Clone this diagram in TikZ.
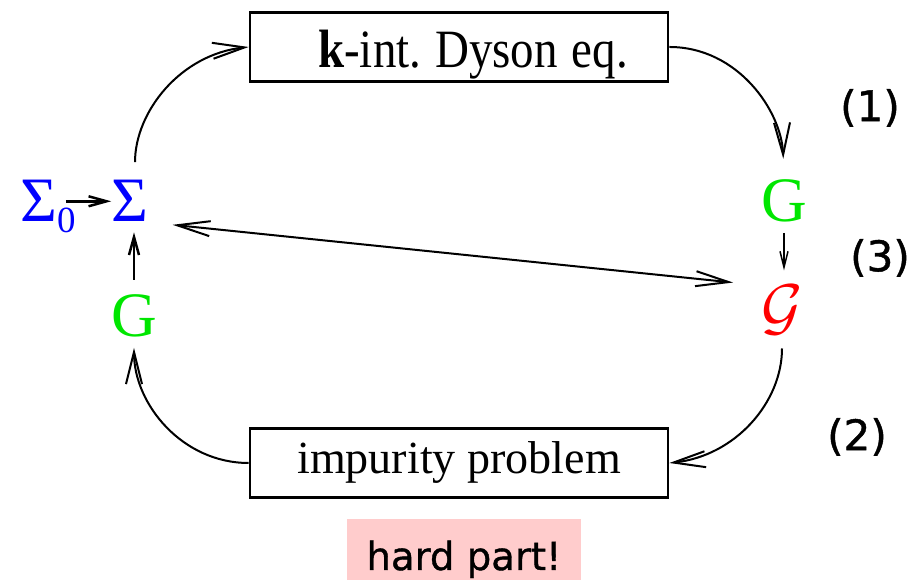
\documentclass[tikz,border=0pt]{standalone}
\usepackage{fontspec}
\setmainfont{Liberation Serif}
\newfontfamily\labelfont[FakeBold=1]{DejaVu Sans}
\usepackage{tikz}
\usetikzlibrary{arrows.meta, positioning}

\definecolor{sigblue}{RGB}{0,0,255}
\definecolor{ggreen}{RGB}{0,230,0}
\definecolor{hardpink}{RGB}{255,204,204}

\tikzset{
  stepbox/.style={draw, line width=0.55mm, inner ysep=0pt, minimum height=13.8mm},
  sym/.style={inner sep=0pt, font=\fontsize{36}{36}\selectfont},
  steplabel/.style={font=\labelfont\fontsize{24}{24}\selectfont},
  cycarrow/.style={line width=0.4mm, -{Straight Barb[length=6.4mm,width=3.2mm]}},
  longarrow/.style={line width=0.4mm, {Straight Barb[length=6.6mm,width=3mm]}-{Straight Barb[length=6.6mm,width=3mm]}},
  shortarrow/.style={line width=0.5mm, -{Straight Barb[length=3.6mm,width=2mm]}},
  thinarrow/.style={line width=0.3mm, -{Straight Barb[length=3.2mm,width=1.6mm]}}
}

\begin{document}
\begin{tikzpicture}[x=0.2mm, y=0.2mm]
        \useasboundingbox (0,0) rectangle (909,580);

        % Boxes
        \node[stepbox, text width=67.6mm, inner xsep=8mm, align=right, text height=8.2mm, text depth=0mm] (dyson) at (459,533)
          {\scalebox{0.87}[1]{\fontsize{30.7}{31}\selectfont\textbf{k}-int.\hspace{0.3em}Dyson\hspace{0.3em}eq.}};
        \node[stepbox, minimum width=83.6mm, inner xsep=0pt, font=\fontsize{26.2}{27}\selectfont] (imp) at (459,117) {impurity problem};

        % Symbols
        \node[sym, anchor=base west, text=sigblue] (sig0) at (20,358)
          {Σ\smash{\raisebox{-2.2mm}{\fontsize{21}{21}\selectfont 0}}};
        \node[sym, anchor=base, text=sigblue] (sig) at (130,358) {Σ};
        \node[sym, anchor=base, text=ggreen] (gleft) at (134,243) {G};
        \node[sym, anchor=base, text=ggreen] (gright) at (784,358) {G};
        \node[sym, anchor=base, text=red] (calg) at (782,251) {\scalebox{3.6}{\normalsize$\mathcal{G}$}};

        % Step labels
        \node[steplabel] (lab1) at (870,472) {(1)};
        \node[steplabel] (lab3) at (880,322) {(3)};
        \node[steplabel] (lab2) at (857,143) {(2)};
        \node[steplabel, font=\labelfont\fontsize{22}{22}\selectfont, fill=hardpink, inner sep=0pt, minimum width=46.8mm, text height=10.2mm, text depth=3mm, anchor=base] (hard) at (464,10) {hard part!};

        % Short arrows
        \draw[shortarrow] ([xshift=-2mm]sig0.east) -- (sig.west);
        \draw[shortarrow, shorten <=3mm, shorten >=2mm] (gleft.north) -- (gleft.north |- sig.south);
        \draw[thinarrow, shorten <=2mm, shorten >=3mm] (gright.south) -- (gright.south |- calg.north);

        % Long arrow
        \draw[longarrow, shorten <=4.8mm, shorten >=5.6mm] (sig.south east) -- (calg.north west);

        % Cycle
        \draw[cycarrow, shorten <=3.6mm] ([xshift=1mm]sig.north) to[out=90, in=186] (dyson.west);
        \draw[cycarrow, shorten >=4.2mm] (dyson.east) to[out=0, in=92] (gright.north);
        \draw[cycarrow, shorten <=2.6mm] (calg.south) to[out=-90, in=6] (imp.east);
        \draw[cycarrow, shorten >=2mm] (imp.west) to[out=180, in=-90] (gleft.south);
      \end{tikzpicture}
\end{document}
